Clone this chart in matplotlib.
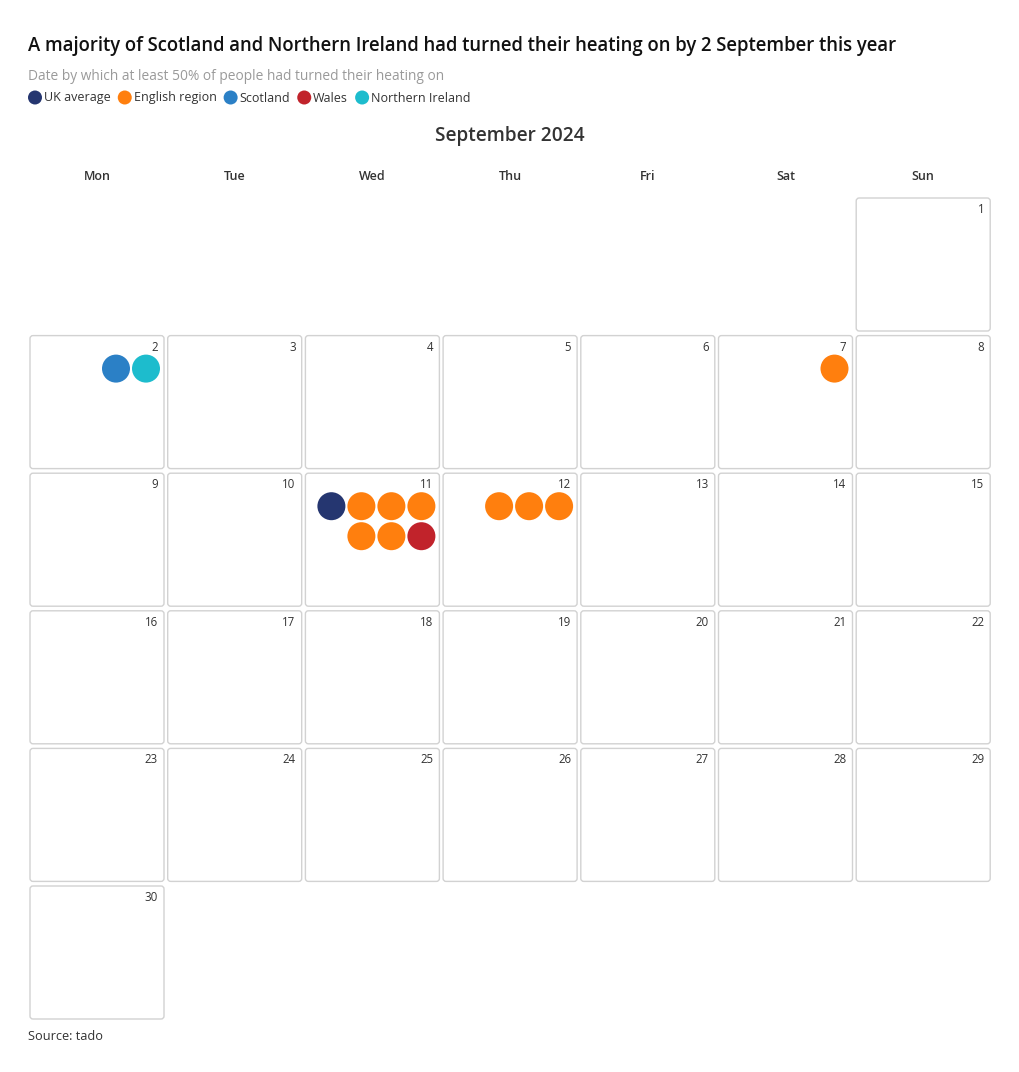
import calendar
import matplotlib
matplotlib.use('Agg')
import matplotlib.pyplot as plt
from matplotlib.patches import FancyBboxPatch, Circle

plt.rcParams['font.family'] = ['Open Sans', 'DejaVu Sans']

title = 'A majority of Scotland and Northern Ireland had turned their heating on by 2 September this year'
subtitle = 'Date by which at least 50% of people had turned their heating on'
source = 'Source: tado'
year, month = 2024, 9
weekdays = ['Mon', 'Tue', 'Wed', 'Thu', 'Fri', 'Sat', 'Sun']

regions = ['UK average', 'English region', 'Scotland', 'Wales', 'Northern Ireland']
colors = ['#253670', '#ff7f0e', '#2b80c6', '#c1232b', '#1dbccd']

# day of September each area passed 50%
uk_day = [11]
english_days = [7, 11, 11, 11, 11, 11, 12, 12, 12]
scotland_day = [2]
wales_day = [11]
ni_day = [2]
days_by_region = [uk_day, english_days, scotland_day, wales_day, ni_day]

W, H = 1020, 1072
fig = plt.figure(figsize=(W / 100, H / 100), dpi=100)
ax = fig.add_axes([0, 0, 1, 1])
ax.set_xlim(0, W)
ax.set_ylim(H, 0)
ax.axis('off')

fig.text(28 / W, 1 - 45.5 / H, title, fontsize=13.35, fontweight='semibold', color='#111111', va='center')
fig.text(28 / W, 1 - 76 / H, subtitle, fontsize=9.95, color='#9a9a9a', va='center')

# legend
lx = 35
for name, c in zip(regions, colors):
    ax.add_patch(Circle((lx, 97.5), 7, color=c, lw=0))
    t = ax.text(lx + 9, 98, name, fontsize=9.0, color='#333333', va='center')
    fig.canvas.draw()
    bb = t.get_window_extent().transformed(ax.transData.inverted())
    lx = bb.x1 + 14

ax.text(510, 136.5, calendar.month_name[month] + ' ' + str(year), fontsize=13.7, fontweight='semibold',
        color='#333333', ha='center', va='center')

x0, y0 = 30, 198
pitch_x, pitch_y = 137.7, 137.6
cw, ch = 134, 133

for i, wd in enumerate(weekdays):
    ax.text(x0 + i * pitch_x + cw / 2, 176.5, wd, fontsize=9, fontweight='semibold',
            color='#333333', ha='center', va='center')

first_wd, ndays = calendar.monthrange(year, month)

def cell_pos(day):
    idx = first_wd + day - 1
    return x0 + (idx % 7) * pitch_x, y0 + (idx // 7) * pitch_y

for day in range(1, ndays + 1):
    cx, cy = cell_pos(day)
    ax.add_patch(FancyBboxPatch((cx, cy), cw, ch, boxstyle='round,pad=0,rounding_size=3',
                                fc='white', ec='#d2d2d2', lw=1))
    ax.text(cx + cw - 6, cy + 11.5, str(day), fontsize=8.3, color='#333333', ha='right', va='center')

# collect dots per day in region order
per_day = {}
for r, days in enumerate(days_by_region):
    for d in days:
        per_day.setdefault(d, []).append(r)

per_row = 4
for d, items in per_day.items():
    cx, cy = cell_pos(d)
    rows = [items[k:k + per_row] for k in range(0, len(items), per_row)]
    for ri, row in enumerate(rows):
        n = len(row)
        for j, r in enumerate(row):
            px = cx + cw - 18 - (n - 1 - j) * 30
            py = cy + 33 + ri * 30
            ax.add_patch(Circle((px, py), 14, color=colors[r], lw=0))

fig.text(28 / W, 1 - 1037 / H, source, fontsize=9.2, color='#333333', va='center')

fig.savefig('out.png', dpi=100, facecolor='white')
